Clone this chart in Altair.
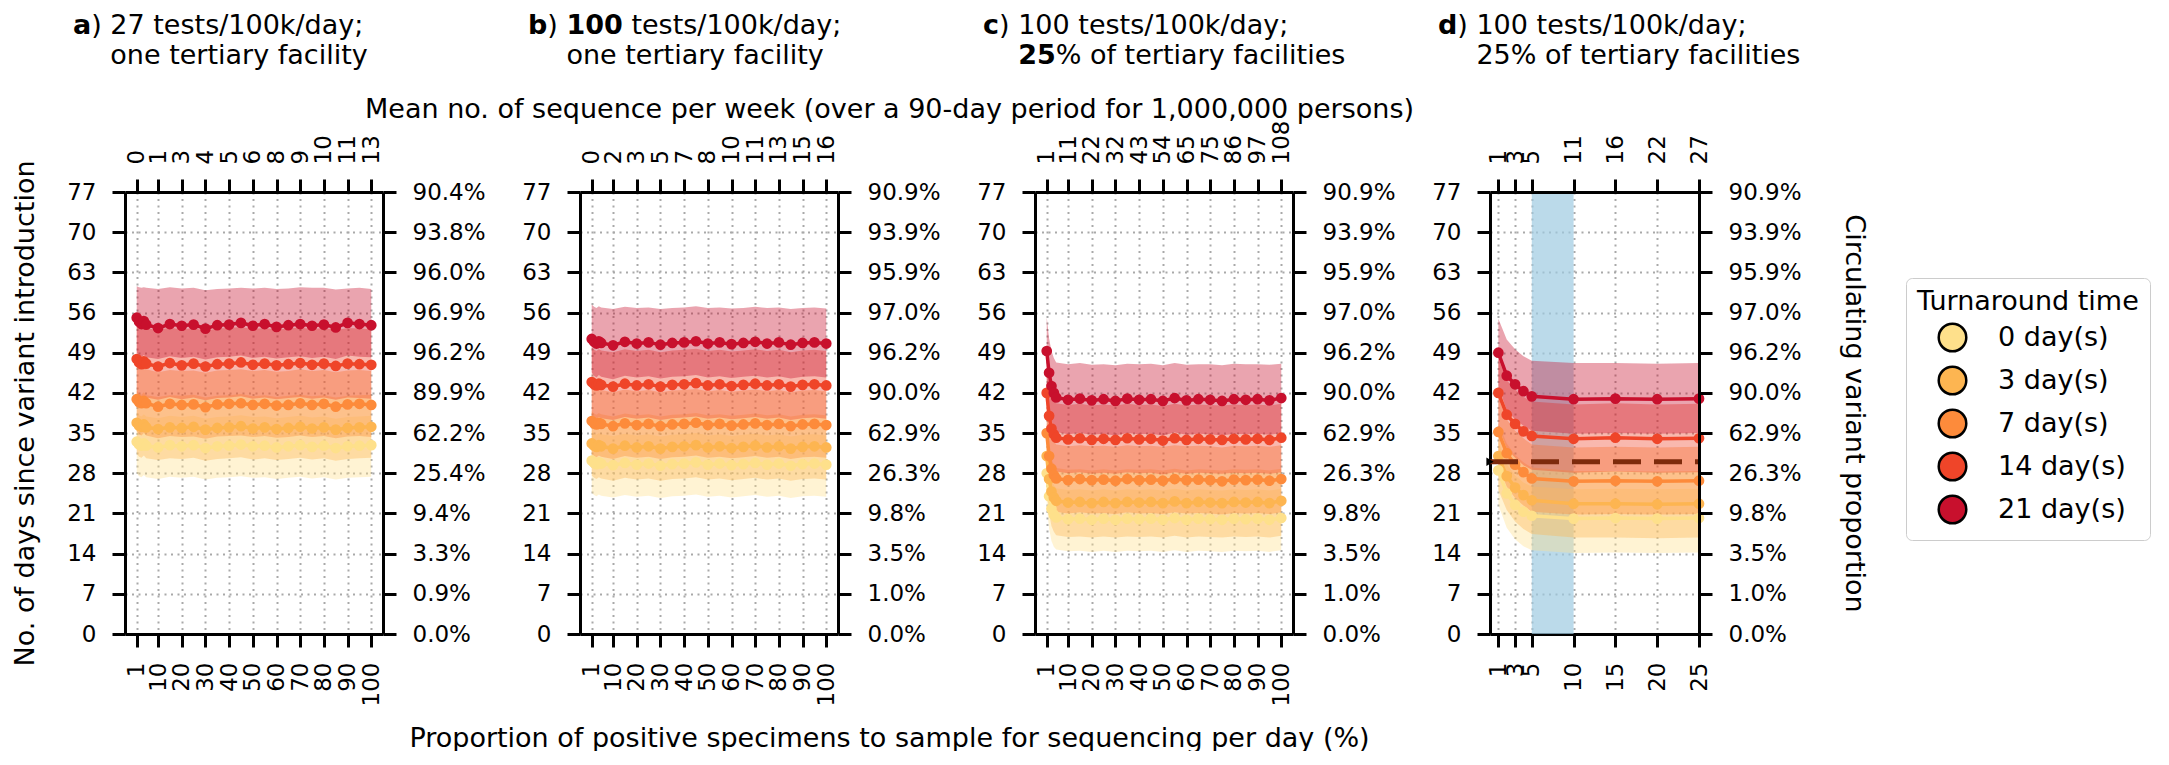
import json
import altair as alt
import pandas as pd

FONT = "DejaVu Sans"

# ---------------- categories / colours ----------------
TAT = ["0 day(s)", "3 day(s)", "7 day(s)", "14 day(s)", "21 day(s)"]
COLORS = ["#fee08b", "#fdb551", "#fd8b3b", "#ef4529", "#c8102d"]

# ---------------- x positions ----------------
X_ABC = [1, 2, 3, 4, 5, 10, 15, 20, 25, 30, 35, 40, 45, 50, 55, 60, 65, 70, 75, 80, 85, 90, 95, 100]
X_D = [1, 2, 3, 4, 5, 10, 15, 20, 25]

# ---------------- tick labels ----------------
Y_TICKS = [0, 7, 14, 21, 28, 35, 42, 49, 56, 63, 70, 77]
ABC_BOTTOM = [1, 10, 20, 30, 40, 50, 60, 70, 80, 90, 100]
D_BOTTOM = [1, 3, 5, 10, 15, 20, 25]
A_TOP = ["0", "1", "3", "4", "5", "6", "8", "9", "10", "11", "13"]
B_TOP = ["0", "2", "3", "5", "7", "8", "10", "11", "13", "15", "16"]
C_TOP = ["1", "11", "22", "32", "43", "54", "65", "75", "86", "97", "108"]
D_TOP = ["1", "3", "5", "11", "16", "22", "27"]
A_PCT = ["0.0%", "0.9%", "3.3%", "9.4%", "25.4%", "62.2%", "89.9%", "96.2%", "96.9%", "96.0%", "93.8%", "90.4%"]
B_PCT = ["0.0%", "1.0%", "3.5%", "9.8%", "26.3%", "62.9%", "90.0%", "96.2%", "97.0%", "95.9%", "93.9%", "90.9%"]
C_PCT = ["0.0%", "1.0%", "3.5%", "9.8%", "26.3%", "62.9%", "90.0%", "96.2%", "97.0%", "95.9%", "93.9%", "90.9%"]
D_PCT = ["0.0%", "1.0%", "3.5%", "9.8%", "26.3%", "62.9%", "90.0%", "96.2%", "97.0%", "95.9%", "93.9%", "90.9%"]

# ---------------- panel a ----------------
A_0_mean = [33.5,33.0,32.8,33.2,32.8,32.5,32.9,32.7,32.9,32.4,32.7,32.8,33.0,32.7,32.8,32.5,32.7,32.9,32.6,32.8,32.4,32.7,32.8,32.9]
A_0_hi = [38.6,38.1,37.9,38.3,37.9,37.6,38.0,37.8,38.0,37.5,37.8,37.9,38.1,37.8,37.9,37.6,37.8,38.0,37.7,37.9,37.5,37.8,37.9,38.0]
A_0_lo = [28.0,27.5,27.3,27.7,27.3,27.0,27.4,27.2,27.4,26.9,27.2,27.3,27.5,27.2,27.3,27.0,27.2,27.4,27.1,27.3,26.9,27.2,27.3,27.4]
A_3_mean = [36.8,36.3,36.1,36.5,36.0,35.7,36.0,35.9,36.1,35.6,35.9,36.0,36.2,35.8,36.0,35.7,35.9,36.1,35.8,36.0,35.6,35.9,36.0,36.1]
A_3_hi = [42.4,41.9,41.7,42.1,41.6,41.3,41.6,41.5,41.7,41.2,41.5,41.6,41.8,41.4,41.6,41.3,41.5,41.7,41.4,41.6,41.2,41.5,41.6,41.7]
A_3_lo = [31.4,30.9,30.7,31.1,30.6,30.3,30.6,30.5,30.7,30.2,30.5,30.6,30.8,30.4,30.6,30.3,30.5,30.7,30.4,30.6,30.2,30.5,30.6,30.7]
A_7_mean = [40.9,40.4,40.2,40.6,40.2,39.6,40.1,39.9,40.0,39.5,40.0,40.1,40.2,39.9,40.1,39.8,39.9,40.2,39.9,40.1,39.6,40.0,40.1,39.9]
A_7_hi = [46.8,46.3,46.1,46.5,46.1,45.6,46.0,45.8,45.9,45.5,45.9,46.0,46.1,45.8,46.0,45.7,45.8,46.1,45.8,46.0,45.6,45.9,46.0,45.8]
A_7_lo = [35.3,34.8,34.6,35.0,34.6,34.1,34.5,34.3,34.4,34.0,34.4,34.5,34.6,34.3,34.5,34.2,34.3,34.6,34.3,34.5,34.1,34.4,34.5,34.3]
A_14_mean = [47.9,47.3,47.0,47.5,47.1,46.6,47.2,46.8,47.1,46.6,47.0,47.1,47.3,46.9,47.1,46.8,47.0,47.2,46.9,47.1,46.7,47.1,47.0,46.9]
A_14_hi = [54.0,53.5,53.2,53.6,53.3,52.9,53.4,53.0,53.3,52.8,53.2,53.3,53.5,53.1,53.3,53.0,53.2,53.4,53.1,53.3,52.9,53.3,53.2,53.1]
A_14_lo = [42.0,41.4,41.1,41.5,41.2,40.8,41.3,40.9,41.2,40.7,41.1,41.2,41.4,41.0,41.2,40.9,41.1,41.3,41.0,41.2,40.8,41.2,41.1,41.0]
A_21_mean = [55.1,54.4,54.0,54.5,53.9,53.3,54.0,53.7,53.9,53.2,53.8,53.9,54.2,53.7,54.0,53.5,53.8,54.0,53.7,53.9,53.4,54.2,54.0,53.8]
A_21_hi = [60.6,60.4,60.3,60.4,60.3,60.1,60.4,60.2,60.3,59.9,60.1,60.2,60.3,60.2,60.3,60.1,60.2,60.4,60.3,60.3,60.0,60.2,60.3,60.1]
A_21_lo = [49.0,48.5,48.3,48.6,48.2,47.9,48.4,48.1,48.3,47.8,48.2,48.3,48.5,48.1,48.3,48.0,48.2,48.4,48.1,48.3,47.9,48.5,48.3,48.2]

# ---------------- panel b ----------------
B_0_mean = [30.2,29.8,29.6,29.9,29.7,29.4,29.8,29.5,29.7,29.3,29.6,29.7,29.9,29.5,29.7,29.4,29.6,29.8,29.5,29.7,29.3,29.6,29.7,29.5]
B_0_hi = [35.3,34.9,34.7,35.0,34.8,34.5,34.9,34.6,34.8,34.4,34.7,34.8,35.0,34.6,34.8,34.5,34.7,34.9,34.6,34.8,34.4,34.7,34.8,34.6]
B_0_lo = [24.6,24.2,24.0,24.3,24.1,23.8,24.2,23.9,24.1,23.7,24.0,24.1,24.3,23.9,24.1,23.8,24.0,24.2,23.9,24.1,23.7,24.0,24.1,23.9]
B_3_mean = [33.2,32.8,32.6,32.9,32.7,32.3,32.8,32.5,32.7,32.3,32.6,32.7,32.9,32.5,32.7,32.4,32.6,32.8,32.5,32.7,32.3,32.6,32.7,32.5]
B_3_hi = [38.8,38.4,38.2,38.5,38.3,37.9,38.4,38.1,38.3,37.9,38.2,38.3,38.5,38.1,38.3,38.0,38.2,38.4,38.1,38.3,37.9,38.2,38.3,38.1]
B_3_lo = [27.6,27.2,27.0,27.3,27.1,26.7,27.2,26.9,27.1,26.7,27.0,27.1,27.3,26.9,27.1,26.8,27.0,27.2,26.9,27.1,26.7,27.0,27.1,26.9]
B_7_mean = [37.1,36.7,36.5,36.8,36.6,36.2,36.7,36.4,36.6,36.2,36.5,36.6,36.8,36.4,36.6,36.3,36.5,36.7,36.4,36.6,36.2,36.5,36.6,36.4]
B_7_hi = [43.0,42.6,42.4,42.7,42.5,42.1,42.6,42.3,42.5,42.1,42.4,42.5,42.7,42.3,42.5,42.2,42.4,42.6,42.3,42.5,42.1,42.4,42.5,42.3]
B_7_lo = [31.4,31.0,30.8,31.1,30.9,30.5,31.0,30.7,30.9,30.5,30.8,30.9,31.1,30.7,30.9,30.6,30.8,31.0,30.7,30.9,30.5,30.8,30.9,30.7]
B_14_mean = [43.9,43.5,43.3,43.6,43.4,43.1,43.6,43.3,43.5,43.1,43.4,43.5,43.7,43.3,43.5,43.2,43.4,43.6,43.3,43.5,43.1,43.4,43.5,43.3]
B_14_hi = [49.9,49.5,49.3,49.6,49.4,49.1,49.6,49.3,49.5,49.1,49.4,49.5,49.7,49.3,49.5,49.2,49.4,49.6,49.3,49.5,49.1,49.4,49.5,49.3]
B_14_lo = [38.1,37.7,37.5,37.8,37.6,37.3,37.8,37.5,37.7,37.3,37.6,37.7,37.9,37.5,37.7,37.4,37.6,37.8,37.5,37.7,37.3,37.6,37.7,37.5]
B_21_mean = [51.4,50.9,50.6,51.0,50.7,50.3,50.9,50.6,50.8,50.4,50.7,50.8,51.0,50.6,50.8,50.5,50.7,50.9,50.6,50.8,50.4,50.7,50.8,50.6]
B_21_hi = [57.4,57.0,56.8,57.1,56.9,56.6,57.0,56.8,56.9,56.6,56.8,56.9,57.1,56.8,56.9,56.7,56.8,57.0,56.8,56.9,56.6,56.8,56.9,56.7]
B_21_lo = [45.6,45.0,44.7,45.1,44.8,44.4,45.0,44.7,44.9,44.5,44.8,44.9,45.1,44.7,44.9,44.6,44.8,45.0,44.7,44.9,44.5,44.8,44.9,44.7]

# ---------------- panel c ----------------
C_0_mean = [28.0,24.0,21.8,20.8,20.3,20.0,20.1,19.9,20.1,19.9,20.1,20.0,20.1,19.9,20.2,19.9,20.1,20.0,19.9,20.1,20.0,20.1,19.9,20.2]
C_0_hi = [33.1,29.1,26.9,25.9,25.4,25.1,25.2,25.0,25.2,25.0,25.2,25.1,25.2,25.0,25.3,25.0,25.2,25.1,25.0,25.2,25.1,25.2,25.0,25.3]
C_0_lo = [22.4,18.4,16.2,15.2,14.7,14.4,14.5,14.3,14.5,14.3,14.5,14.4,14.5,14.3,14.6,14.3,14.5,14.4,14.3,14.5,14.4,14.5,14.3,14.6]
C_3_mean = [31.0,27.0,24.8,23.8,23.2,22.9,23.0,22.8,23.0,22.8,23.0,22.9,23.0,22.8,23.1,22.8,23.0,22.9,22.8,23.0,22.9,23.0,22.8,23.2]
C_3_hi = [36.7,32.7,30.5,29.5,28.9,28.6,28.7,28.5,28.7,28.5,28.7,28.6,28.7,28.5,28.8,28.5,28.7,28.6,28.5,28.7,28.6,28.7,28.5,28.8]
C_3_lo = [25.0,21.0,18.8,17.8,17.2,16.9,17.0,16.8,17.0,16.8,17.0,16.9,17.0,16.8,17.1,16.8,17.0,16.9,16.8,17.0,16.9,17.0,16.8,17.1]
C_7_mean = [35.0,31.0,28.8,27.7,27.1,26.8,27.0,26.8,26.9,26.7,27.0,26.8,26.9,26.7,27.0,26.8,26.9,26.8,26.6,26.9,26.8,26.9,26.7,27.0]
C_7_hi = [40.9,36.9,34.7,33.6,33.0,32.7,32.9,32.7,32.8,32.6,32.9,32.7,32.8,32.6,32.9,32.7,32.8,32.7,32.5,32.8,32.7,32.8,32.6,32.9]
C_7_lo = [29.2,25.2,23.0,21.9,21.3,21.0,21.2,21.0,21.1,20.9,21.2,21.0,21.1,20.9,21.2,21.0,21.1,21.0,20.8,21.1,21.0,21.1,20.9,21.2]
C_14_mean = [42.0,38.0,35.8,34.8,34.2,33.9,34.1,33.8,34.0,33.8,34.1,33.9,34.0,33.7,34.1,33.8,34.0,33.9,33.8,34.0,33.9,34.0,33.8,34.2]
C_14_hi = [48.0,44.0,41.8,40.8,40.2,39.9,40.1,39.8,40.0,39.8,40.1,39.9,40.0,39.7,40.1,39.8,40.0,39.9,39.8,40.0,39.9,40.0,39.8,40.1]
C_14_lo = [36.1,32.1,29.9,28.9,28.3,28.0,28.2,27.9,28.1,27.9,28.2,28.0,28.1,27.8,28.2,27.9,28.1,28.0,27.9,28.1,28.0,28.1,27.9,28.2]
C_21_mean = [49.3,45.5,43.2,42.0,41.2,40.8,41.0,40.7,40.9,40.6,41.0,40.8,40.9,40.6,41.1,40.7,40.9,40.8,40.6,40.9,40.8,40.9,40.7,41.1]
C_21_hi = [55.2,51.5,49.3,48.1,47.3,47.0,47.2,46.9,47.0,46.8,47.1,47.0,47.1,46.8,47.2,46.9,47.0,47.0,46.8,47.1,47.0,47.0,46.9,47.1]
C_21_lo = [43.5,39.6,37.2,36.0,35.2,34.8,35.0,34.7,34.9,34.6,35.0,34.8,34.9,34.6,35.1,34.7,34.9,34.8,34.6,34.9,34.8,34.9,34.7,35.0]

# ---------------- panel d ----------------
D_0_mean = [28.5,24.5,22.5,21.3,20.6,20.1,20.2,20.1,20.2]
D_0_hi = [33.6,29.6,27.6,26.4,25.7,25.2,25.3,25.2,25.3]
D_0_lo = [22.5,18.5,16.5,15.3,14.6,14.1,14.2,14.1,14.2]
D_3_mean = [31.0,27.5,25.5,24.2,23.3,22.7,22.7,22.6,22.7]
D_3_hi = [36.7,33.2,31.2,29.9,29.0,28.4,28.4,28.3,28.4]
D_3_lo = [25.1,21.6,19.6,18.3,17.4,16.8,16.8,16.7,16.8]
D_7_mean = [35.2,31.5,29.5,28.2,27.1,26.6,26.7,26.6,26.7]
D_7_hi = [41.1,37.4,35.4,34.1,33.0,32.5,32.6,32.5,32.6]
D_7_lo = [29.4,25.7,23.7,22.4,21.3,20.8,20.9,20.8,20.9]
D_14_mean = [42.0,38.2,36.6,35.3,34.5,34.0,34.2,34.0,34.1]
D_14_hi = [48.0,44.2,42.6,41.3,40.5,40.0,40.2,40.0,40.1]
D_14_lo = [36.1,32.3,30.7,29.4,28.6,28.1,28.3,28.1,28.2]
D_21_mean = [49.0,45.0,43.5,42.3,41.4,40.9,41.0,40.9,41.0]
D_21_hi = [54.9,51.3,49.6,48.4,47.6,47.2,47.2,47.1,47.2]
D_21_lo = [43.2,39.0,37.4,36.3,35.4,34.9,35.0,34.9,35.0]

# highlighted range and threshold in panel d
D_SPAN = [5, 10]
D_THRESHOLD = 30

# ---------------- layout constants ----------------
W_ABC = 258
W_D = 209
H = 442
TITLE_FS = 27
TICK_FS = 23

# DejaVu Sans advance widths (normal, bold) in 1/2048 em, for title layout
ADV = {"a": (1255, 1382), "b": (1300, 1466), "c": (1126, 1219), "d": (1300, 1466),
       ")": (799, 911), " ": (651, 713), "%": (1946, 2053)}
for ch in "0123456789":
    ADV[ch] = (1303, 1425)


def text_width(s, bold):
    return sum(ADV[ch][1 if bold else 0] for ch in s) * TITLE_FS / 2048.0


def build_df(xs, series):
    rows = []
    for tat, (m, lo, hi) in zip(TAT, series):
        for i, x in enumerate(xs):
            rows.append({"x": x, "tat": tat, "mean": m[i], "lo": lo[i], "hi": hi[i]})
    return pd.DataFrame(rows)


def title_layers(letter, line1, line2):
    """line1 / line2: lists of (text, bold) pieces."""
    x0, y1, y2 = -52, -158, -128
    out = []

    def seg(txt, bold, px, py):
        return alt.Chart(pd.DataFrame({"t": [txt]})).mark_text(
            font=FONT, fontSize=TITLE_FS, fontWeight="bold" if bold else "normal",
            align="left", baseline="alphabetic", color="black",
        ).encode(x=alt.value(px), y=alt.value(py), text="t:N")

    x = x0
    pieces = [(letter, True)] + line1
    for txt, bold in pieces:
        lead = len(txt) - len(txt.lstrip(" "))
        x += lead * ADV[" "][0] * TITLE_FS / 2048.0
        core = txt.lstrip(" ")
        out.append(seg(core, bold, x, y1))
        if all(ch in ADV for ch in core):
            x += text_width(core, bold)
    x = x0 + text_width(letter, True) + text_width(") ", False)
    for txt, bold in line2:
        out.append(seg(txt, bold, x, y2))
        if all(ch in ADV for ch in txt):
            x += text_width(txt, bold)
    return out


GRID = dict(grid=True, gridColor="#a9a9a9", gridDash=[2, 4.5], gridWidth=2, gridOpacity=1)

LEGEND = alt.Legend(
    title="Turnaround time", orient="none", legendX=1781, legendY=86,
    titleFontSize=TITLE_FS, titleFontWeight="normal", titleColor="black", titleFont=FONT,
    titleLimit=400, labelLimit=300,
    labelFontSize=TITLE_FS, labelColor="black", labelFont=FONT,
    symbolType="circle", symbolSize=760, symbolStrokeColor="black", symbolStrokeWidth=2.5,
    symbolOpacity=1, symbolOffset=20, labelOffset=30, rowPadding=4, titlePadding=6,
    strokeColor="#cccccc", fillColor="white", padding=11, cornerRadius=6,
)

# scale for the legend-bearing points; bands and lines use the same mapping
# written in reverse order so they form their own (legend-less) scales
COLOR_SCALE = alt.Scale(domain=TAT, range=COLORS)
BAND_SCALE = alt.Scale(domain=TAT[::-1], range=COLORS[::-1])


def make_panel(xs, series, xdomain, xvals, top_labels, pcts, width, titles,
               left_title=None, right_title=None, bottom_title=None, top_title=None,
               span=None, threshold=None):
    df = build_df(xs, series)
    xsc = alt.Scale(domain=xdomain, nice=False, zero=False)
    ysc = alt.Scale(domain=[0, 77], nice=False, zero=False)

    bottom_kw = dict(orient="bottom", values=xvals, labelAngle=270, labelAlign="right",
                     labelBaseline="middle", labelPadding=15, **GRID)
    if bottom_title:
        bottom_kw.update(title=bottom_title, titleX=309, titleY=112,
                         titleBaseline="alphabetic", titleAlign="center")
    else:
        bottom_kw.update(title=None)
    left_kw = dict(orient="left", values=Y_TICKS, labelPadding=16, **GRID)
    if left_title:
        left_kw.update(title=left_title, titlePadding=27)
    else:
        left_kw.update(title=None)

    top_expr = "%s[indexof(%s, datum.value)]" % (json.dumps(top_labels), json.dumps(xvals))
    top_kw = dict(orient="top", values=xvals, labelAngle=270, labelAlign="left",
                  labelBaseline="middle", labelPadding=15, labelExpr=top_expr,
                  grid=False, zindex=1)
    if top_title:
        top_kw.update(title=top_title, titleX=309, titleY=-75,
                      titleBaseline="alphabetic", titleAlign="center")
    else:
        top_kw.update(title=None)
    right_expr = "%s[round(datum.value / 7)]" % json.dumps(pcts)
    right_kw = dict(orient="right", values=Y_TICKS, labelPadding=16, labelExpr=right_expr,
                    grid=False, zindex=1)
    if right_title:
        right_kw.update(title=right_title, titlePadding=38)
    else:
        right_kw.update(title=None)

    layers = []
    if span is not None:
        sdf = pd.DataFrame({"x0": [span[0]], "x1": [span[1]], "y0": [0], "y1": [77]})
        layers.append(alt.Chart(sdf).mark_rect(color="#9ecae1", opacity=0.7).encode(
            x=alt.X("x0:Q", scale=xsc, axis=None), x2="x1:Q",
            y=alt.Y("y0:Q", scale=ysc, axis=None), y2="y1:Q"))

    base = alt.Chart(df)
    layers.append(base.mark_area(opacity=0.38).encode(
        x=alt.X("x:Q", scale=xsc, axis=alt.Axis(**bottom_kw)),
        y=alt.Y("lo:Q", scale=ysc, axis=alt.Axis(**left_kw)),
        y2="hi:Q",
        fill=alt.Fill("tat:N", scale=BAND_SCALE, legend=None),
    ))
    layers.append(base.mark_line(strokeWidth=3.5).encode(
        x=alt.X("x:Q", scale=xsc, axis=alt.Axis(**top_kw)),
        y=alt.Y("mean:Q", scale=ysc, axis=alt.Axis(**right_kw)),
        stroke=alt.Stroke("tat:N", scale=BAND_SCALE, legend=None),
    ))
    layers.append(base.mark_circle(size=115, opacity=1).encode(
        x=alt.X("x:Q", scale=xsc, axis=None),
        y=alt.Y("mean:Q", scale=ysc, axis=None),
        color=alt.Color("tat:N", scale=COLOR_SCALE, legend=LEGEND),
    ))
    if threshold is not None:
        tdf = pd.DataFrame({"x0": [xdomain[0]], "x1": [xdomain[1]], "y": [threshold]})
        layers.append(alt.Chart(tdf).mark_rule(color="#7d2a0c", strokeWidth=5,
                                               strokeDash=[28, 13]).encode(
            x=alt.X("x0:Q", scale=xsc, axis=None), x2="x1:Q",
            y=alt.Y("y:Q", scale=ysc, axis=None)))
        layers.append(alt.Chart(tdf).mark_point(shape="triangle-right", filled=True,
                                                color="black", size=70, opacity=1).encode(
            x=alt.X("x0:Q", scale=xsc, axis=None),
            y=alt.Y("y:Q", scale=ysc, axis=None)))
    layers += titles
    return alt.layer(*layers).resolve_axis(x="independent", y="independent").properties(
        width=width, height=H)


pa = make_panel(
    X_ABC,
    [(A_0_mean, A_0_lo, A_0_hi), (A_3_mean, A_3_lo, A_3_hi), (A_7_mean, A_7_lo, A_7_hi),
     (A_14_mean, A_14_lo, A_14_hi), (A_21_mean, A_21_lo, A_21_hi)],
    [-3.95, 104.95], ABC_BOTTOM, A_TOP, A_PCT, W_ABC,
    title_layers("a", [(") 27 tests/100k/day;", False)], [("one tertiary facility", False)]),
    left_title="No. of days since variant introduction",
)
pb = make_panel(
    X_ABC,
    [(B_0_mean, B_0_lo, B_0_hi), (B_3_mean, B_3_lo, B_3_hi), (B_7_mean, B_7_lo, B_7_hi),
     (B_14_mean, B_14_lo, B_14_hi), (B_21_mean, B_21_lo, B_21_hi)],
    [-3.95, 104.95], ABC_BOTTOM, B_TOP, B_PCT, W_ABC,
    title_layers("b", [(")", False), (" 100", True), (" tests/100k/day;", False)],
                 [("one tertiary facility", False)]),
    bottom_title="Proportion of positive specimens to sample for sequencing per day (%)",
    top_title="Mean no. of sequence per week (over a 90-day period for 1,000,000 persons)",
)
pc = make_panel(
    X_ABC,
    [(C_0_mean, C_0_lo, C_0_hi), (C_3_mean, C_3_lo, C_3_hi), (C_7_mean, C_7_lo, C_7_hi),
     (C_14_mean, C_14_lo, C_14_hi), (C_21_mean, C_21_lo, C_21_hi)],
    [-3.95, 104.95], ABC_BOTTOM, C_TOP, C_PCT, W_ABC,
    title_layers("c", [(") 100 tests/100k/day;", False)],
                 [("25", True), ("% of tertiary facilities", False)]),
)
pd_ = make_panel(
    X_D,
    [(D_0_mean, D_0_lo, D_0_hi), (D_3_mean, D_3_lo, D_3_hi), (D_7_mean, D_7_lo, D_7_hi),
     (D_14_mean, D_14_lo, D_14_hi), (D_21_mean, D_21_lo, D_21_hi)],
    [0, 25], D_BOTTOM, D_TOP, D_PCT, W_D,
    title_layers("d", [(") 100 tests/100k/day;", False)], [("25% of tertiary facilities", False)]),
    right_title="Circulating variant proportion",
    span=D_SPAN, threshold=D_THRESHOLD,
)

chart = alt.hconcat(pa, pb, pc, pd_, spacing=197, bounds="flush").properties(
    padding={"left": 3, "top": 4, "right": 0, "bottom": 0}
).configure(font=FONT, background="white").configure_view(stroke=None).configure_axis(
    labelFont=FONT, titleFont=FONT, labelFontSize=TICK_FS, labelColor="black",
    titleFontSize=TITLE_FS, titleFontWeight="normal", titleColor="black",
    domainColor="black", domainWidth=3, tickColor="black", tickWidth=3, tickSize=13,
    labelOverlap=False, labelFlush=False,
)

chart.save("out.html", embed_options={"renderer": "svg", "actions": False})
